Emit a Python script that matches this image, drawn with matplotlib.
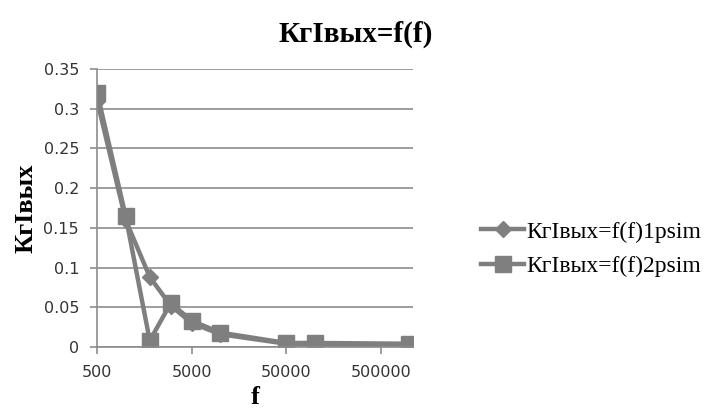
import matplotlib.pyplot as plt
from matplotlib.ticker import FixedLocator, FixedFormatter, NullLocator

# частоты, Гц
f = [500, 1000, 1800, 3000, 5000, 10000, 50000, 100000, 1000000]
# коэффициент гармоник выходного тока
kg_1psim = [0.31, 0.16, 0.088, 0.052, 0.030, 0.016, 0.004, 0.003, 0.003]
kg_2psim = [0.32, 0.165, 0.008, 0.055, 0.033, 0.018, 0.005, 0.005, 0.004]

xticks = [500, 5000, 50000, 500000]
yticks = [0, 0.05, 0.1, 0.15, 0.2, 0.25, 0.3, 0.35]
ytick_labels = ['0', '0.05', '0.1', '0.15', '0.2', '0.25', '0.3', '0.35']

gray = '#7f7f7f'
serif = 'Liberation Serif'

fig = plt.figure(figsize=(7.04, 4.13), dpi=100)
ax = fig.add_axes([0.138, 0.16, 0.449, 0.673])

ax.plot(f, kg_1psim, color=gray, lw=3.2, marker='D', ms=8,
        label='КгIвых=f(f)1psim')
ax.plot(f, kg_2psim, color=gray, lw=3.2, marker='s', ms=11,
        label='КгIвых=f(f)2psim')

ax.set_xscale('log')
ax.set_xlim(500, 1.1e6)
ax.set_ylim(0, 0.35)
ax.xaxis.set_major_locator(FixedLocator(xticks))
ax.xaxis.set_major_formatter(FixedFormatter([str(v) for v in xticks]))
ax.xaxis.set_minor_locator(NullLocator())
ax.set_yticks(yticks)
ax.set_yticklabels(ytick_labels)

ax.grid(axis='y', color='#8c8c8c', lw=1.2)
ax.set_axisbelow(True)
for s in ['top', 'right']:
    ax.spines[s].set_visible(False)
for s in ['left', 'bottom']:
    ax.spines[s].set_color('#8c8c8c')
    ax.spines[s].set_linewidth(1.2)
ax.tick_params(colors='#8c8c8c', width=1.2, length=5, direction='out')
ax.tick_params(labelcolor='#333333', labelsize=11.5)
ax.tick_params(axis='y', pad=8)
ax.tick_params(axis='x', pad=8)

ax.set_xlabel('f', fontfamily=serif, fontweight='bold', fontsize=19, labelpad=4)
ax.set_ylabel('КгIвых', fontfamily=serif, fontweight='bold', fontsize=19, labelpad=4)
fig.text(0.505, 0.918, 'КгIвых=f(f)', ha='center', va='center',
         fontfamily=serif, fontweight='bold', fontsize=21)

fig.legend(loc='center left', bbox_to_anchor=(0.667, 0.397), frameon=False,
           prop={'family': serif, 'size': 17}, handlelength=1.8,
           handletextpad=0.1, labelspacing=0.55, borderpad=0)

fig.savefig('out.png', dpi=100)
